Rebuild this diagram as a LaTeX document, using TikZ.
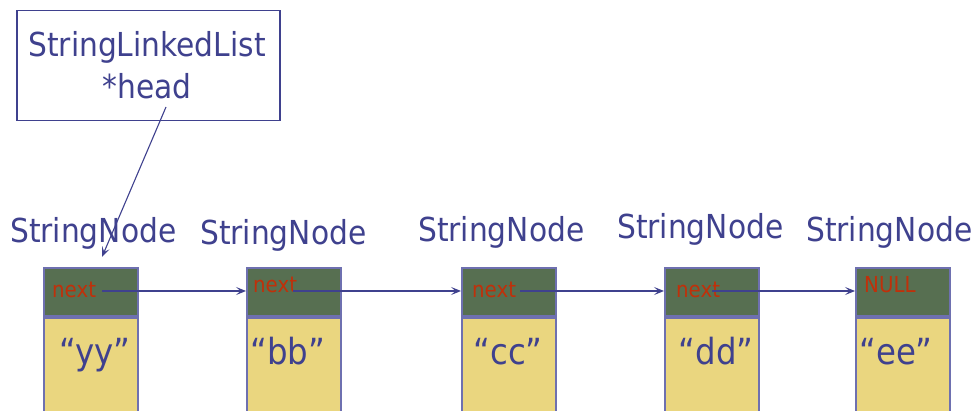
\documentclass[tikz,border=0pt]{standalone}
\usepackage{fontspec}
\setmainfont{DejaVu Sans Condensed}
\usetikzlibrary{arrows.meta}
\definecolor{txtblue}{HTML}{3F418E}
\definecolor{edgeblue}{HTML}{6E70B0}
\definecolor{ptrgreen}{HTML}{576F51}
\definecolor{datayel}{HTML}{EAD67F}
\definecolor{nextred}{HTML}{C0300A}
\tikzset{
  ptrbox/.style={draw=edgeblue, line width=1.6pt, fill=ptrgreen, anchor=north west, minimum width=94pt, minimum height=48pt, inner sep=0pt},
  databox/.style={draw=edgeblue, line width=1.6pt, fill=datayel, anchor=north west, minimum width=94pt, minimum height=110pt, inner sep=0pt},
  title/.style={text=txtblue, font=\fontsize{33}{37}\selectfont, anchor=base west, inner sep=0pt},
  val/.style={text=txtblue, font=\fontsize{36}{40}\selectfont, anchor=base, inner sep=0pt},
  nxt/.style={text=nextred, font=\fontsize{22}{25}\selectfont, anchor=base west, inner sep=0pt},
  link/.style={draw=txtblue, line width=1.1pt, -{Stealth[length=10pt,width=8pt,inset=4.5pt]}}
}
\begin{document}
\begin{tikzpicture}[x=1pt,y=-1pt]
\useasboundingbox (0,0) rectangle (978,411);
% list header box
\node[draw=txtblue, line width=1.5pt, anchor=north west, minimum width=263pt, minimum height=110pt, inner sep=0pt] (list) at (16,10) {};
\node[text=txtblue, font=\fontsize{33}{37}\selectfont, anchor=base, inner sep=0pt] (lt1) at (147,57) {StringLinkedList};
\node[text=txtblue, font=\fontsize{33}{37}\selectfont, anchor=base, inner sep=0pt] (lt2) at (147,99) {*head};
% titles
\node[title] (t1) at (10,243) {StringNode};
\node[title] (t2) at (200,245) {StringNode};
\node[title] (t3) at (418,242) {StringNode};
\node[title] (t4) at (617,239) {StringNode};
\node[title] (t5) at (806,242) {StringNode};
% boxes
\node[databox] (d1) at (43,317) {};
\node[databox] (d2) at (246,317) {};
\node[databox] (d3) at (461,317) {};
\node[databox] (d4) at (664,317) {};
\node[databox] (d5) at (855,317) {};
\node[ptrbox] (p1) at (43,267) {};
\node[ptrbox] (p2) at (246,267) {};
\node[ptrbox] (p3) at (461,267) {};
\node[ptrbox] (p4) at (664,267) {};
\node[ptrbox] (p5) at (855,267) {};
% values
\node[val] (v1) at (95,365) {“yy”};
\node[val] (v2) at (288,365) {“bb”};
\node[val] (v3) at (508,365) {“cc”};
\node[val] (v4) at (716,365) {“dd”};
\node[val] (v5) at (896,365) {“ee”};
% next labels
\node[nxt] (n1) at (52,298) {next};
\node[nxt] (n2) at (253,293) {next};
\node[nxt] (n3) at (472,298) {next};
\node[nxt] (n4) at (676,298) {next};
\node[nxt] (n5) at (864,293) {NULL};
% link coordinates
\coordinate (s1) at (102,291);
\coordinate (s2) at (293,291);
\coordinate (s3) at (520,291);
\coordinate (s4) at (712,291);
\coordinate (h0) at (166,107);
\coordinate (h1) at (102,257);
\draw[link] (s1) -- (s1 -| p2.west);
\draw[link] (s2) -- (s2 -| p3.west);
\draw[link] (s3) -- (s3 -| p4.west);
\draw[link] (s4) -- (s4 -| p5.west);
\draw[link] (h0) -- (h1);
\end{tikzpicture}
\end{document}
